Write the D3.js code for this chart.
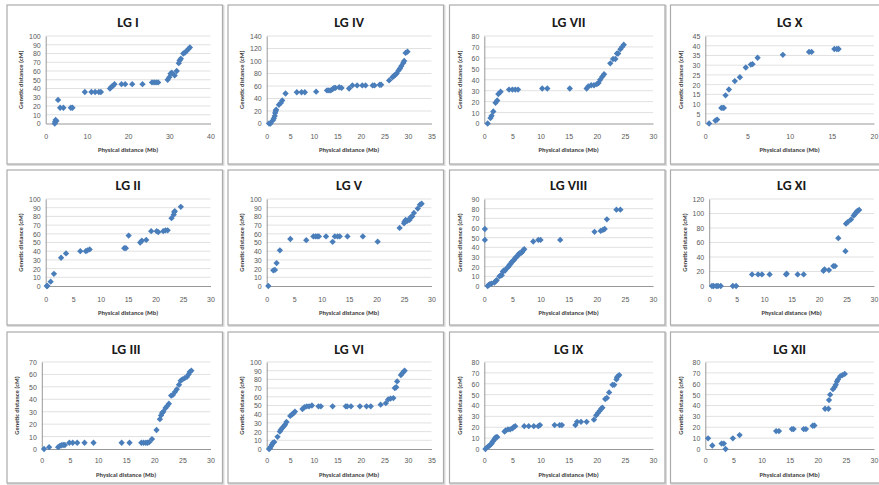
<!DOCTYPE html>
<html>
<head>
<meta charset="utf-8">
<script src="https://cdn.jsdelivr.net/npm/d3@7"></script>
<style>
  body { margin: 0; background: #fff; }
  svg { display: block; font-family: Carlito, Lato, "Open Sans", sans-serif; }
</style>
</head>
<body>
<svg id="chart" width="879" height="485"></svg>
<script>
// Marker positions per linkage group: [physical distance (Mb), genetic distance (cM)]
const lgI = [[2.2,0],[2.3,2],[2.4,4],[2.6,3],[3.0,27],[3.5,18],[4.3,18],[6.1,18],[6.5,18],[9.5,36],[11.1,36],[12.0,36],[12.9,36],[13.4,36],[15.6,40],[16.0,42],[16.3,43],[16.7,45],[18.4,45],[19.3,45],[21.0,45],[23.5,45],[25.8,47],[26.3,47],[26.8,47],[27.3,47],[29.6,50],[30.0,53],[30.3,57],[30.6,58],[31.3,55],[31.8,60],[32.3,69],[32.5,72],[32.8,74],[33.4,80],[33.8,81],[34.2,83],[34.6,85],[35.0,87]];
const lgII = [[0.2,0],[0.3,0],[0.9,5],[1.5,14],[2.8,32.5],[3.7,37.4],[6.3,40],[7.3,40],[7.6,41],[8.0,42],[14.3,43.5],[14.6,43.5],[15.1,58],[17.2,50],[17.5,52],[18.3,53],[19.2,63],[20.2,63],[20.5,62],[21.4,63],[21.8,64],[22.2,64],[22.9,78],[23.3,82],[23.4,85],[23.5,86],[24.6,91]];
const lgIII = [[0.4,0],[1.3,1.5],[2.9,1.5],[3.2,2.5],[3.5,3],[3.8,3.2],[4.1,3.2],[4.9,5],[5.5,5],[6.3,5],[7.6,5],[9.2,5],[14.2,5],[15.6,5],[17.7,5],[18.1,5],[18.5,5],[18.8,5],[19.1,5.5],[19.6,8],[20.4,15.3],[21.0,24],[21.2,27],[21.4,29],[21.6,30],[22.0,33],[22.3,34.5],[22.6,36.5],[23.0,43],[23.3,43.5],[23.7,46],[24.0,48],[24.4,51.7],[24.7,55],[25.0,56],[25.4,57],[25.8,58],[26.1,60],[26.3,62],[26.6,63]];
const lgIV = [[0.5,0],[0.8,0],[1.3,5],[1.5,8],[1.7,12],[1.8,17],[1.9,20],[2.0,22],[2.6,30],[3.0,33],[3.3,37],[4.0,48],[6.4,50],[7.4,50],[8.1,50],[10.5,51],[12.8,53],[13.2,53],[13.6,53],[14.0,55],[14.3,57],[14.6,57],[15.4,58],[15.9,57],[17.5,56],[18.2,61],[19.2,61],[20.3,61],[21.0,61],[22.5,61],[22.9,61],[24.0,62],[24.3,62],[26.0,69],[26.7,74],[27.0,76],[27.3,78],[27.6,80],[28.0,85],[28.3,88],[28.6,92],[29.0,97],[29.2,100],[29.5,113],[29.9,115]];
const lgV = [[0.3,0],[1.2,18],[1.5,18.5],[1.8,26.3],[2.4,41],[4.3,54],[7.2,52.7],[8.5,57],[8.9,57],[9.2,57],[9.5,57],[10.8,57],[12.0,50.8],[12.4,57],[12.9,57],[13.3,57],[14.7,57],[17.5,57],[20.2,51],[24.2,66.8],[25.0,72],[25.1,74],[25.3,76],[25.6,75],[26.0,76],[26.2,79],[26.5,80],[26.8,84],[27.5,89],[27.9,93.5],[28.2,94.5]];
const lgVI = [[0.5,0],[0.7,1],[0.9,3],[1.1,5],[1.3,7],[1.6,8],[2.3,14],[2.8,20],[3.0,22],[3.3,24],[3.6,26],[3.9,28],[4.2,31],[5.0,38],[5.4,40],[5.7,41],[6.0,43],[7.6,46],[8.0,48],[8.5,49],[9.0,49],[9.6,50],[11.0,49],[11.5,49],[14.0,49],[16.8,49],[17.1,49],[17.9,49],[19.8,49],[21.2,49],[22.1,49],[24.2,51],[25.3,52.7],[25.8,57],[26.3,58],[26.9,58.5],[27.2,70],[27.5,71],[27.7,77.7],[28.5,85],[28.8,87],[29.1,89],[29.3,90]];
const lgVII = [[0.6,0],[1.1,5],[1.3,7],[1.6,11],[2.0,19],[2.3,21],[2.5,27],[2.9,29],[4.4,31],[5.0,31],[5.5,31],[6.0,31],[10.3,32],[11.2,32],[15.2,32],[18.2,32],[18.5,34],[19.0,35],[19.5,35],[20.0,36],[20.3,37],[20.6,40],[21.0,43],[21.3,45],[22.4,55],[22.9,59],[23.3,59],[23.6,64],[23.8,64],[24.2,68],[24.5,70],[24.8,72]];
const lgVIII = [[0.1,59],[0.1,47.7],[0.6,0],[0.8,1],[1.0,2],[1.3,2.5],[1.8,3.5],[2.0,5],[2.2,6],[2.7,10],[2.9,11],[3.1,11],[3.3,15],[3.5,16],[3.7,16],[4.1,19],[4.3,20],[4.5,22],[4.7,23],[4.9,25],[5.1,26],[5.3,27],[5.5,29],[5.7,30],[5.9,31],[6.1,33],[6.3,34],[6.5,34],[6.7,35],[6.9,37],[7.1,38],[8.7,46],[9.6,47.7],[10.0,47.7],[13.5,47.7],[19.6,56],[20.7,57],[21.1,58],[21.4,59],[21.8,69],[23.5,79],[24.2,79]];
const lgIX = [[0.2,0],[0.6,2],[0.9,3],[1.1,4],[1.3,5],[1.5,7],[1.7,8],[1.9,10],[2.1,11],[2.3,11],[3.6,16],[3.8,17],[4.2,18],[4.6,18],[5.0,19],[5.2,20],[5.5,21],[7.1,21],[7.9,21],[8.8,21],[9.6,21],[9.9,22],[12.5,22],[13.4,22],[13.8,22],[16.2,22],[16.5,25],[17.2,25],[18.2,25],[19.5,27],[19.9,31],[20.2,33],[20.5,35],[20.8,37],[21.0,38],[21.5,46],[21.8,47],[22.2,52],[22.8,59],[23.1,59],[23.5,64],[23.6,66],[23.8,67],[24.0,68]];
const lgX = [[0.45,0],[1.2,1.5],[1.4,2],[1.9,8],[2.1,8],[2.2,8],[2.4,14.5],[2.8,17.5],[3.5,21.8],[4.1,23.8],[4.8,28.8],[5.4,30.3],[5.6,30.5],[6.2,33.8],[9.2,35.3],[12.3,36.8],[12.6,36.8],[15.3,38.3],[15.6,38.3],[15.8,38.3]];
const lgXI = [[0.5,0],[0.8,0],[1.3,0],[1.6,0],[2.1,0],[4.3,0],[4.9,0],[7.8,16],[8.9,16],[9.6,16],[11.0,16],[14.0,16],[14.1,17],[16.1,16],[17.2,16],[20.8,21],[21.0,23],[21.8,22],[22.6,27.5],[22.9,27.5],[23.5,66],[24.8,48],[24.9,86],[25.2,88],[25.8,91.6],[26.3,97],[26.5,99],[26.7,101],[26.9,103],[27.1,104],[27.3,105]];
const lgXII = [[0.5,9.8],[1.25,3.2],[2.9,5],[3.3,5],[3.6,0],[4.9,9.8],[6.1,12.8],[12.6,16.5],[13.1,16.5],[15.4,18.3],[15.7,18.3],[17.5,18.3],[17.9,18.3],[19.1,21.4],[19.4,21.6],[21.3,37],[21.9,37],[22.0,45],[22.2,50],[22.7,55],[23.0,57],[23.2,59],[23.4,62],[23.6,64],[24.0,67],[24.4,68],[24.8,69]];

// Panels in reading order (row by row, four per row)
const titles = ["LG I", "LG IV", "LG VII", "LG X",
                "LG II", "LG V", "LG VIII", "LG XI",
                "LG III", "LG VI", "LG IX", "LG XII"];
const series = [lgI, lgIV, lgVII, lgX, lgII, lgV, lgVIII, lgXI, lgIII, lgVI, lgIX, lgXII];
const xMax  = [40, 35, 30, 20, 30, 30, 30, 30, 30, 35, 30, 30];
const xStep = [10, 5, 5, 5, 5, 5, 5, 5, 5, 5, 5, 5];
const yMax  = [100, 140, 80, 45, 100, 100, 90, 120, 70, 100, 80, 80];
const yStep = [10, 20, 10, 5, 10, 10, 10, 20, 10, 10, 10, 10];
const xLabel = "Physical distance (Mb)";
const yLabel = "Genetic distance (cM)";

// Grid layout
const colLeft = [7, 228, 449.5, 670.5];
const panelW = 215.5;
const rowTop = [5, 170, 332];
const rowH = [159, 155, 151];
const plotTop = [36, 199, 362];
const plotBottom = [123.5, 286, 449];
const titleY = [22, 185, 349];
const xTickY = [136, 299, 460];
const xTitleY = [149.5, 312.5, 475];

const svg = d3.select("#chart");
const blue = "#4a7ebb";
const diamond = d3.symbol().type(d3.symbolSquare).size(20);

series.forEach((pts, i) => {
  const r = Math.floor(i / 4), c = i % 4;
  const left = colLeft[c], top = rowTop[r];
  const digits = String(yMax[i]).length;
  const x0 = left + 27 + 3.9 * digits;
  const x1 = left + 203.5;
  const y0 = plotBottom[r], y1 = plotTop[r];

  const g = svg.append("g");

  // chart frame with a soft shadow
  g.append("rect")
    .attr("x", left + 1).attr("y", top + 1)
    .attr("width", panelW).attr("height", rowH[r])
    .attr("fill", "none").attr("stroke", "#dcdcdc").attr("stroke-width", 2);
  g.append("rect")
    .attr("x", left).attr("y", top)
    .attr("width", panelW).attr("height", rowH[r])
    .attr("fill", "#fff").attr("stroke", "#ababab").attr("stroke-width", 1.2);

  const x = d3.scaleLinear().domain([0, xMax[i]]).range([x0, x1]);
  const y = d3.scaleLinear().domain([0, yMax[i]]).range([y0, y1]);
  const xTicks = d3.range(0, xMax[i] + 0.001, xStep[i]);
  const yTicks = d3.range(0, yMax[i] + 0.001, yStep[i]);

  // horizontal gridlines
  g.append("g").selectAll("line").data(yTicks.filter(v => v > 0)).join("line")
    .attr("x1", x0).attr("x2", x1)
    .attr("y1", d => y(d)).attr("y2", d => y(d))
    .attr("stroke", "#d9d9d9").attr("stroke-width", 0.8);

  // axes
  const yAxis = g.append("g").attr("transform", `translate(${x0},0)`)
    .call(d3.axisLeft(y).tickValues(yTicks).tickSize(0).tickPadding(5));
  const xAxis = g.append("g").attr("transform", `translate(0,${y0})`)
    .call(d3.axisBottom(x).tickValues(xTicks).tickSize(0).tickPadding(0));
  [xAxis, yAxis].forEach(a => {
    a.select(".domain").attr("stroke", "#8c8c8c").attr("stroke-width", 0.9);
    a.selectAll("text").attr("fill", "#595959").style("font-size", "7px");
  });
  xAxis.selectAll("text").attr("y", null).attr("dy", null)
    .attr("transform", null)
    .attr("dominant-baseline", "central")
    .attr("y", xTickY[r] - y0);
  yAxis.selectAll("text").attr("dy", "0.35em");

  // title
  g.append("text")
    .attr("x", (x0 + x1) / 2).attr("y", titleY[r])
    .attr("text-anchor", "middle").attr("dominant-baseline", "central")
    .attr("font-weight", "bold").attr("font-size", 14).attr("fill", "#1a1a1a")
    .text(titles[i]);

  // axis titles
  g.append("text")
    .attr("x", (x0 + x1) / 2).attr("y", xTitleY[r])
    .attr("text-anchor", "middle").attr("dominant-baseline", "central")
    .attr("font-weight", "bold").attr("font-size", 6.5).attr("fill", "#404040")
    .text(xLabel);
  g.append("text")
    .attr("transform", `translate(${x0 - 24.5},${(y0 + y1) / 2}) rotate(-90)`)
    .attr("text-anchor", "middle").attr("dominant-baseline", "central")
    .attr("font-weight", "bold").attr("font-size", 6.5).attr("fill", "#404040")
    .text(yLabel);

  // markers
  g.append("g").selectAll("path").data(pts).join("path")
    .attr("d", diamond)
    .attr("transform", d => `translate(${x(d[0])},${y(d[1])}) rotate(45)`)
    .attr("fill", blue);
});
</script>
</body>
</html>
